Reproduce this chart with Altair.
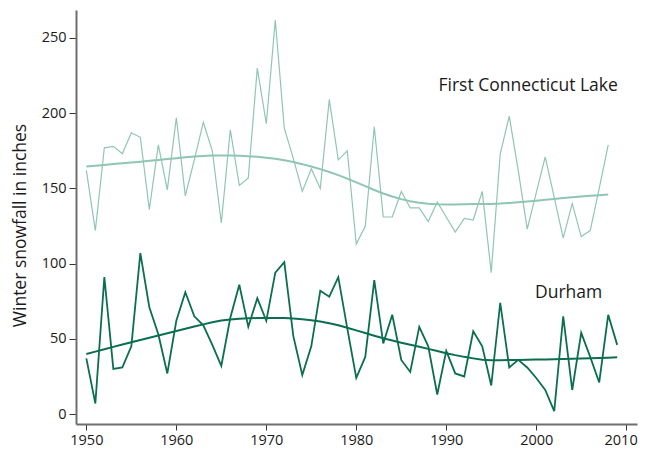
import altair as alt
import pandas as pd

lake_years = list(range(1950, 2009))
lake_snow = [162, 122, 177, 178, 173, 187, 184, 136, 179, 149,
             197, 145, 169, 194, 175, 127, 189, 152, 157, 230,
             193, 262, 190, 170, 148, 163, 150, 209, 169, 175,
             113, 125, 191, 131, 131, 148, 137, 137, 128, 141,
             131, 121, 130, 129, 148, 94, 173, 198, 162, 123,
             147, 171, 144, 117, 140, 118, 122, 150, 179]

durham_years = list(range(1950, 2010))
durham_snow = [37, 7, 91, 30, 31, 45, 107, 71, 53, 27,
               62, 81, 65, 59, 46, 32, 64, 86, 58, 77,
               62, 94, 101, 52, 26, 45, 82, 78, 91, 57,
               24, 38, 89, 47, 66, 36, 28, 58, 45, 13,
               42, 27, 25, 55, 45, 19, 74, 31, 36, 31,
               24, 16, 2, 65, 16, 54, 38, 21, 66, 46]

sites = ["First Connecticut Lake", "Durham"]
site_colors = ["#8fc6b2", "#0b6e50"]
label_years = [1999.1, 2003.6]
label_values = [218, 80.5]

df = pd.concat([
    pd.DataFrame({"year": lake_years, "snow": lake_snow, "site": sites[0]}),
    pd.DataFrame({"year": durham_years, "snow": durham_snow, "site": sites[1]}),
])
labels = pd.DataFrame({"year": label_years, "snow": label_values, "site": sites})

FONT = "Open Sans"

x = alt.X("year:Q",
          scale=alt.Scale(domain=[1948.85, 2011.2], nice=False, zero=False),
          axis=alt.Axis(values=list(range(1950, 2011, 10)), format="d", title=None,
                        grid=False, domainColor="#6e6e6e", domainWidth=2,
                        tickColor="#333333", tickSize=6, tickWidth=1,
                        labelFont=FONT, labelFontSize=14.5, labelColor="#1a1a1a",
                        labelPadding=3,
                        labelAlign=alt.condition("datum.value == 2010",
                                                 alt.value("right"), alt.value("center")),
                        labelOffset=alt.condition("datum.value == 2010",
                                                  alt.value(11), alt.value(0))))
y = alt.Y("snow:Q",
          scale=alt.Scale(domain=[-6.6, 268.6], nice=False, zero=False),
          axis=alt.Axis(values=list(range(0, 251, 50)), title="Winter snowfall in inches",
                        grid=False, domainColor="#6e6e6e", domainWidth=2,
                        tickColor="#333333", tickSize=7, tickWidth=1,
                        labelFont=FONT, labelFontSize=14.5, labelColor="#1a1a1a",
                        labelPadding=3,
                        titleFont=FONT, titleFontSize=17.5, titleFontWeight="normal",
                        titleColor="#1a1a1a", titleX=-56, titleY=215,
                        titleAngle=270, titleAlign="center", titleBaseline="middle"))

color = alt.Color("site:N", scale=alt.Scale(domain=sites, range=site_colors), legend=None)
width_enc = alt.StrokeWidth("site:N", scale=alt.Scale(domain=sites, range=[1.2, 1.8]), legend=None)

base = alt.Chart(df)

raw = base.mark_line().encode(x=x, y=y, color=color, detail="site:N", strokeWidth=width_enc)

smooth = base.transform_loess(
    "year", "snow", bandwidth=0.52, groupby=["site"]
).mark_line(strokeWidth=2).encode(x=x, y=y, color=color, detail="site:N")

text = alt.Chart(labels).mark_text(font=FONT, fontSize=17.5, color="#1a1a1a",
                                   align="center", baseline="middle").encode(
    x=x, y=y, text="site:N")

chart = alt.layer(raw, smooth, text).properties(
    width=561, height=414,
    autosize=alt.AutoSizeParams(type="none"),
    padding={"left": 68, "top": 2, "right": 1, "bottom": 26},
).configure_view(stroke=None)

chart.save("out.html", embed_options={"renderer": "svg", "actions": False})
